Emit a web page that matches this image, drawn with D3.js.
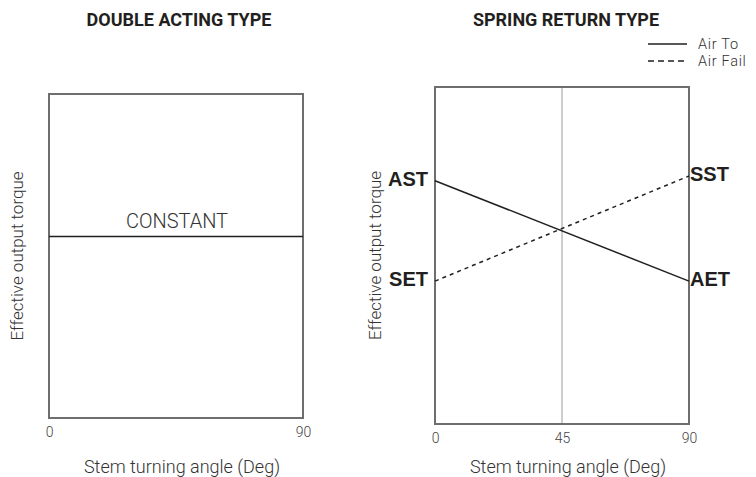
<!DOCTYPE html>
<html>
<head>
<meta charset="utf-8">
<script src="https://cdn.jsdelivr.net/npm/d3@7"></script>
<style>
  body { margin: 0; background: #fff; }
  text { font-family: Roboto, "DejaVu Sans", sans-serif; }
</style>
</head>
<body>
<div id="main"></div>
<script>
// chart data
const angles = [0, 90];
const angleTicks = [0, 45, 90];
const constantTorque = [56, 56];
const airTo = [72.2, 42.4];      // AST -> AET
const airFail = [42.4, 73.6];    // SET -> SST
const airToLabels = ['AST', 'AET'];
const airFailLabels = ['SET', 'SST'];
const titles = ['DOUBLE ACTING TYPE', 'SPRING RETURN TYPE'];
const legendNames = ['Air To', 'Air Fail'];

const svgWidth = 756, svgHeight = 477;
const boxColor = '#6e6e70';

const svg = d3.select('#main')
    .append('svg')
    .attr('width', svgWidth)
    .attr('height', svgHeight);

function drawPanel(p) {
    const xScale = d3.scaleLinear().domain([0, 90]).range([p.left, p.right]);
    const yScale = d3.scaleLinear().domain([0, 100]).range([p.bottom, p.top]);
    const g = svg.append('g');

    // title
    g.append('text')
        .attr('x', p.titleX)
        .attr('y', 26)
        .attr('text-anchor', 'middle')
        .attr('font-size', 18)
        .attr('font-weight', 700)
        .attr('fill', '#231f20')
        .text(p.title);

    // center guide
    if (p.guide) {
        g.append('line')
            .attr('x1', xScale(45)).attr('x2', xScale(45))
            .attr('y1', p.top).attr('y2', p.bottom)
            .attr('stroke', '#9a9a9c')
            .attr('stroke-width', 1);
    }

    // frame
    g.append('rect')
        .attr('x', p.left).attr('y', p.top)
        .attr('width', p.right - p.left)
        .attr('height', p.bottom - p.top)
        .attr('fill', 'none')
        .attr('stroke', boxColor)
        .attr('stroke-width', 2);

    // x axis
    const xAxis = g.append('g')
        .attr('transform', `translate(0, ${p.bottom + 6})`)
        .call(d3.axisBottom(xScale).tickValues(p.ticks).tickSize(0).tickFormat(d3.format('d')));
    xAxis.select('.domain').remove();
    xAxis.selectAll('text')
        .attr('font-size', 14)
        .attr('font-weight', 300)
        .attr('fill', '#444')
        .style('font-family', 'Roboto, sans-serif');

    g.append('text')
        .attr('x', (p.left + p.right) / 2 + 6)
        .attr('y', 473)
        .attr('text-anchor', 'middle')
        .attr('font-size', 18)
        .attr('font-weight', 300)
        .attr('fill', '#333')
        .text('Stem turning angle (Deg)');

    g.append('text')
        .attr('transform', `translate(${p.yLabelX}, ${(p.top + p.bottom) / 2}) rotate(-90)`)
        .attr('text-anchor', 'middle')
        .attr('font-size', 17)
        .attr('font-weight', 300)
        .attr('fill', '#333')
        .text('Effective output torque');

    return { g, xScale, yScale };
}

const line = (xScale, yScale) => d3.line()
    .x((d, i) => xScale(angles[i]))
    .y(d => yScale(d));

// left panel
const left = drawPanel({
    left: 49, right: 303, top: 94, bottom: 418,
    title: titles[0], titleX: 179, ticks: angles, yLabelX: 23, guide: false
});
left.g.append('path')
    .datum(constantTorque)
    .attr('fill', 'none')
    .attr('stroke', '#231f20')
    .attr('stroke-width', 1.5)
    .attr('d', line(left.xScale, left.yScale));
left.g.append('text')
    .attr('x', 177)
    .attr('y', left.yScale(constantTorque[0]) - 9)
    .attr('text-anchor', 'middle')
    .attr('font-size', 20)
    .attr('font-weight', 300)
    .attr('fill', '#333')
    .text('CONSTANT');

// right panel
const right = drawPanel({
    left: 435, right: 689, top: 87, bottom: 424,
    title: titles[1], titleX: 566, ticks: angleTicks, yLabelX: 381, guide: true
});
right.g.append('path')
    .datum(airTo)
    .attr('fill', 'none')
    .attr('stroke', '#231f20')
    .attr('stroke-width', 1.5)
    .attr('d', line(right.xScale, right.yScale));
right.g.append('path')
    .datum(airFail)
    .attr('fill', 'none')
    .attr('stroke', '#231f20')
    .attr('stroke-width', 1.5)
    .attr('stroke-dasharray', '4,4')
    .attr('d', line(right.xScale, right.yScale));

// end labels
[[airTo, airToLabels], [airFail, airFailLabels]].forEach(([vals, labels]) => {
    vals.forEach((v, i) => {
        right.g.append('text')
            .attr('x', right.xScale(angles[i]) + (i === 0 ? -7 : 1))
            .attr('y', right.yScale(v) - 2)
            .attr('dy', '0.36em')
            .attr('text-anchor', i === 0 ? 'end' : 'start')
            .attr('font-size', 20)
            .attr('font-weight', 700)
            .attr('fill', '#231f20')
            .style('font-family', '"Liberation Sans", Arial, sans-serif')
            .text(labels[i]);
    });
});

// legend
const legend = svg.append('g').attr('transform', 'translate(648, 44)');
legendNames.forEach((name, i) => {
    legend.append('line')
        .attr('x1', 0).attr('x2', 39)
        .attr('y1', i * 17).attr('y2', i * 17)
        .attr('stroke', '#231f20')
        .attr('stroke-width', 1.5)
        .attr('stroke-dasharray', i === 0 ? null : '6,4');
    legend.append('text')
        .attr('x', 50)
        .attr('y', i * 17)
        .attr('dy', '0.35em')
        .attr('font-size', 14.5)
        .attr('letter-spacing', 0.7)
        .attr('font-weight', 300)
        .attr('fill', '#333')
        .text(name);
});
</script>
</body>
</html>
